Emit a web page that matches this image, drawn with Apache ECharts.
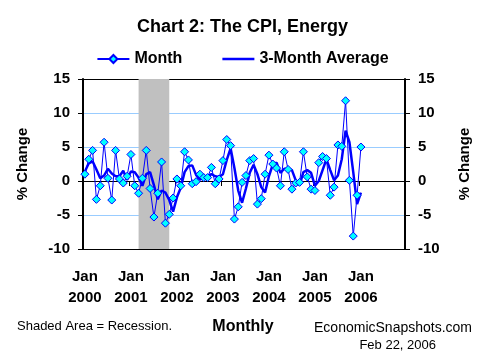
<!DOCTYPE html>
<html>
<head>
<meta charset="utf-8">
<script src="https://cdn.jsdelivr.net/npm/echarts@6/dist/echarts.min.js"></script>
<style>html,body{margin:0;padding:0;background:#fff;}#c{width:485px;height:360px;}</style>
</head>
<body>
<div id="c"></div>
<script>
// Categories: Jan 2000 .. Dec 2006 (monthly)
const years = [2000, 2001, 2002, 2003, 2004, 2005, 2006];
const monthNames = ['Jan','Feb','Mar','Apr','May','Jun','Jul','Aug','Sep','Oct','Nov','Dec'];
const categories = [];
years.forEach(y => monthNames.forEach(m => categories.push(m + ' ' + y)));

// Monthly % change, CPI Energy (Jan 2000 .. Jan 2006)
const monthValues = [
  1.0, 3.2, 4.5, -2.7, -0.7, 5.7, 0.4, -2.8, 4.5, 0.3, -0.3, 0.7,
  3.9, -0.7, -1.8, 0.4, 4.5, -1.1, -5.3, -1.8, 2.8, -6.2, -4.9, -2.5,
  0.3, -0.7, 4.3, 3.1, -0.4, -0.1, 1.0, 0.5, 0.5, 2.0, -0.4, 0.3,
  3.0, 6.1, 5.2, -5.6, -3.8, -0.2, 0.8, 3.0, 3.3, -3.4, -2.6, 1.0,
  3.8, 2.5, 1.9, -0.7, 4.3, 1.7, -1.2, -0.3, -0.2, 4.3, 0.6, -1.2,
  -1.4, 2.7, 3.6, 3.3, -2.1, -0.9, 5.3, 5.1, 11.8, 0.1, -8.1, -2.1,
  5.0
];

// 3-month average
const avgValues = [
  1.4, 2.6, 2.9, 1.7, 0.4, 0.8, 1.8, 1.1, 0.7, 0.7, 1.5, 0.2,
  1.4, 1.3, 0.5, -0.7, 1.0, 1.3, -0.6, -2.7, -1.4, -1.7, -2.8, -4.5,
  -2.4, -1.0, 1.3, 2.2, 2.3, 0.9, 0.2, 0.5, 0.7, 1.0, 0.7, 0.6,
  1.0, 3.1, 4.8, 1.9, -1.4, -3.2, -1.1, 1.2, 2.4, 1.0, -0.9, -1.7,
  0.7, 2.4, 2.7, 1.2, 1.8, 1.8, 1.6, 0.1, -0.6, 1.3, 1.6, 1.2,
  -0.7, 0.0, 1.6, 3.2, 1.6, 0.1, 0.8, 3.2, 7.4, 5.7, 1.3, -3.4,
  -1.7
];

// Recession period
const recessionStart = 'Mar 2001';
const recessionEnd = 'Nov 2001';

const yTicks = { min: -10, max: 15, interval: 5 };

const FONT = "'Liberation Sans', Arial, sans-serif";
const chart = echarts.init(document.getElementById('c'), null, { renderer: 'canvas' });

const isJan = (i) => i % 12 === 0;
const splitColors = ['#000000', '#99ccff', '#000000', '#99ccff', '#99ccff', '#000000'];

chart.setOption({
  animation: false,
  backgroundColor: '#ffffff',
  textStyle: { fontFamily: FONT },
  title: {
    text: 'Chart 2: The CPI, Energy',
    left: 'center',
    top: 13,
    textStyle: { fontFamily: FONT, fontSize: 18, fontWeight: 'bold', color: '#000' }
  },
  legend: {
    top: 46,
    left: 'center',
    itemWidth: 32,
    itemHeight: 10,
    itemGap: 40,
    textStyle: { fontFamily: FONT, fontSize: 16, fontWeight: 'bold', color: '#000' },
    data: [
      { name: 'Month' },
      { name: '3-Month Average', icon: 'path://M0,3.75h32v2.5h-32z M0,0h0.01v10h-0.01z' }
    ]
  },
  grid: { left: 83, right: 80, top: 79, bottom: 111, containLabel: false },
  xAxis: [
    {
      type: 'category',
      data: categories,
      boundaryGap: true,
      position: 'bottom',
      axisLine: { show: false, onZero: false },
      axisTick: { show: false },
      splitLine: { show: false },
      axisLabel: {
        interval: (i) => isJan(i),
        formatter: (v) => v.replace(' ', '\n'),
        fontFamily: FONT, fontSize: 15, fontWeight: 'bold', color: '#000',
        lineHeight: 21, margin: 17
      }
    },
    {
      type: 'category',
      data: categories,
      boundaryGap: true,
      position: 'bottom',
      axisLine: { show: true, onZero: true, lineStyle: { color: '#000', width: 1 } },
      axisTick: { show: true, interval: (i) => isJan(i), length: 5, inside: false, lineStyle: { color: '#000' } },
      axisLabel: { show: false },
      splitLine: { show: false }
    }
  ],
  yAxis: [
    {
      type: 'value',
      position: 'left',
      min: yTicks.min, max: yTicks.max, interval: yTicks.interval,
      name: '% Change',
      nameLocation: 'middle',
      nameGap: 53,
      nameRotate: 90,
      nameTextStyle: { fontFamily: FONT, fontSize: 15, fontWeight: 'bold', color: '#000' },
      axisLine: { show: true, lineStyle: { color: '#000', width: 2 } },
      axisTick: { show: true, length: 5, inside: false, lineStyle: { color: '#000' } },
      axisLabel: { fontFamily: FONT, fontSize: 15, fontWeight: 'bold', color: '#000', margin: 13 },
      splitLine: { show: true, lineStyle: { color: splitColors, width: 1 } }
    },
    {
      type: 'value',
      position: 'right',
      min: yTicks.min, max: yTicks.max, interval: yTicks.interval,
      name: '% Change',
      nameLocation: 'middle',
      nameGap: 52,
      nameRotate: 90,
      nameTextStyle: { fontFamily: FONT, fontSize: 15, fontWeight: 'bold', color: '#000' },
      axisLine: { show: true, lineStyle: { color: '#000', width: 2 } },
      axisTick: { show: true, length: 5, inside: false, lineStyle: { color: '#000' } },
      axisLabel: { fontFamily: FONT, fontSize: 15, fontWeight: 'bold', color: '#000', margin: 13 },
      splitLine: { show: false }
    }
  ],
  series: [
    {
      name: '3-Month Average',
      type: 'line',
      xAxisIndex: 0, yAxisIndex: 0,
      data: avgValues,
      symbol: 'none',
      lineStyle: { color: '#0000ff', width: 2.5 },
      itemStyle: { color: '#0000ff' },
      z: 3,
      markArea: {
        silent: true,
        itemStyle: { color: '#c0c0c0' },
        data: [[{ xAxis: recessionStart }, { xAxis: recessionEnd }]]
      }
    },
    {
      name: 'Month',
      type: 'line',
      xAxisIndex: 0, yAxisIndex: 0,
      data: monthValues,
      symbol: 'diamond',
      symbolSize: 8,
      showSymbol: true,
      showAllSymbol: true,
      lineStyle: { color: '#0000ff', width: 1 },
      itemStyle: { color: '#00ffff', borderColor: '#0000ff', borderWidth: 1 },
      z: 4
    }
  ],
  graphic: [
    { type: 'text', left: 17, top: 320, style: { text: 'Shaded Area = Recession.', font: "13px 'Liberation Sans', Arial", fill: '#000' } },
    { type: 'text', x: 243, y: 327, style: { text: 'Monthly', font: "bold 16px 'Liberation Sans', Arial", fill: '#000', textAlign: 'center', textVerticalAlign: 'middle' } },
    { type: 'text', x: 472, y: 328, style: { text: 'EconomicSnapshots.com', font: "14px 'Liberation Sans', Arial", fill: '#000', textAlign: 'right', textVerticalAlign: 'middle' } },
    { type: 'text', x: 436, y: 345, style: { text: 'Feb 22, 2006', font: "13px 'Liberation Sans', Arial", fill: '#000', textAlign: 'right', textVerticalAlign: 'middle' } }
  ]
});
</script>
</body>
</html>
